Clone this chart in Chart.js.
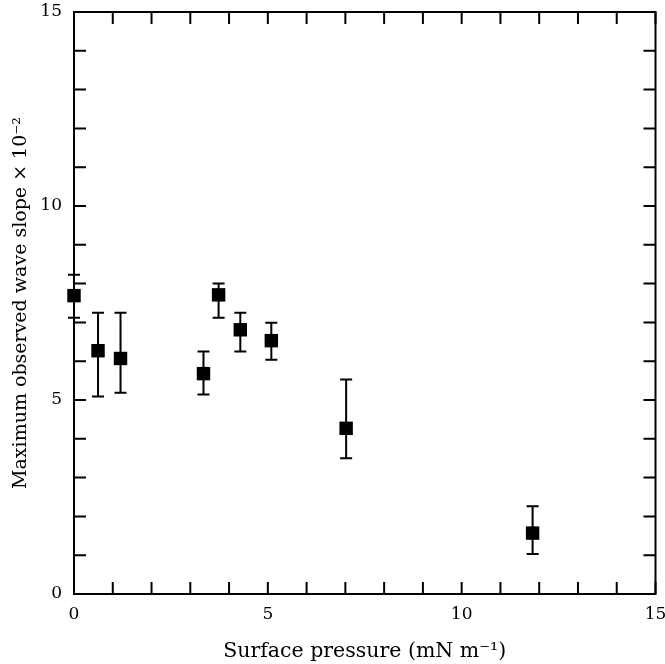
<!DOCTYPE html>
<html>
<head>
<meta charset="utf-8">
<script src="https://cdn.jsdelivr.net/npm/chart.js@4"></script>
<style>
  html, body { margin: 0; padding: 0; background: #ffffff; }
  #wrap { width: 665px; height: 664px; }
</style>
</head>
<body>
<div id="wrap"><canvas id="slope-chart" width="665" height="664"></canvas></div>
<script>
// =========================================================
// DATA
// surface pressure (mN m^-1) and max observed wave slope (x10^-2)
// =========================================================
const pressure = [0, 0.62, 1.2, 3.34, 3.73, 4.29, 5.09, 7.02, 11.83];
const slope = [7.69, 6.27, 6.07, 5.68, 7.71, 6.81, 6.53, 4.27, 1.57];
const slopeHigh = [8.23, 7.25, 7.25, 6.25, 8.0, 7.25, 6.99, 5.53, 2.26];
const slopeLow = [7.12, 5.09, 5.19, 5.14, 7.12, 6.25, 6.04, 3.5, 1.03];

const xTickLabels = [0, 5, 10, 15];
const yTickLabels = [0, 5, 10, 15];

const FONT = "'DejaVu Serif', 'Liberation Serif', serif";
const INK = "#000000";
const TICK_LEN = 12;

const points = pressure.map((p, i) => ({ x: p, y: slope[i] }));

// ---------------------------------------------------------
// frame with inward ticks on all four sides
// ---------------------------------------------------------
const framePlugin = {
  id: "frame",
  beforeDatasetsDraw(chart) {
    const { ctx, chartArea: a, scales } = chart;
    ctx.save();
    ctx.strokeStyle = INK;
    ctx.lineWidth = 2;
    ctx.strokeRect(a.left, a.top, a.right - a.left, a.bottom - a.top);

    ctx.beginPath();
    scales.x.ticks.forEach((t) => {
      const px = scales.x.getPixelForValue(t.value);
      ctx.moveTo(px, a.bottom);
      ctx.lineTo(px, a.bottom - TICK_LEN);
      ctx.moveTo(px, a.top);
      ctx.lineTo(px, a.top + TICK_LEN);
    });
    scales.y.ticks.forEach((t) => {
      const py = scales.y.getPixelForValue(t.value);
      ctx.moveTo(a.left, py);
      ctx.lineTo(a.left + TICK_LEN, py);
      ctx.moveTo(a.right, py);
      ctx.lineTo(a.right - TICK_LEN, py);
    });
    ctx.stroke();
    ctx.restore();
  },
};

// ---------------------------------------------------------
// vertical error bars with caps
// ---------------------------------------------------------
const errorBarPlugin = {
  id: "errorBars",
  beforeDatasetsDraw(chart) {
    const { ctx, scales } = chart;
    const capHalf = 6;
    ctx.save();
    ctx.strokeStyle = INK;
    ctx.lineWidth = 2;
    ctx.beginPath();
    pressure.forEach((p, i) => {
      const px = scales.x.getPixelForValue(p);
      const top = scales.y.getPixelForValue(slopeHigh[i]);
      const bot = scales.y.getPixelForValue(slopeLow[i]);
      ctx.moveTo(px, top);
      ctx.lineTo(px, bot);
      ctx.moveTo(px - capHalf, top);
      ctx.lineTo(px + capHalf, top);
      ctx.moveTo(px - capHalf, bot);
      ctx.lineTo(px + capHalf, bot);
    });
    ctx.stroke();
    ctx.restore();
  },
};

new Chart(document.getElementById("slope-chart"), {
  type: "scatter",
  data: {
    datasets: [
      {
        data: points,
        clip: false,
        pointStyle: "rect",
        pointRadius: 9.5,
        pointHoverRadius: 9.5,
        backgroundColor: INK,
        borderColor: INK,
        borderWidth: 0,
      },
    ],
  },
  options: {
    responsive: false,
    animation: false,
    events: [],
    layout: { padding: { top: 12, right: 8, left: 0, bottom: 0 } },
    plugins: {
      legend: { display: false },
      tooltip: { enabled: false },
    },
    scales: {
      x: {
        type: "linear",
        min: 0,
        max: 15,
        grid: { display: false, drawTicks: false },
        border: { display: false },
        ticks: {
          stepSize: 1,
          autoSkip: false,
          maxRotation: 0,
          padding: 10,
          color: INK,
          font: { family: FONT, size: 17 },
          callback: (v) => (xTickLabels.includes(v) ? String(v) : ""),
        },
        title: {
          display: true,
          text: "Surface pressure (mN m\u207B\u00B9)",
          color: INK,
          font: { family: FONT, size: 20.5 },
          padding: { top: 0, bottom: 0 },
        },
        afterFit(scale) {
          scale.height = 70;
          scale.paddingLeft = 0;
          scale.paddingRight = 0;
        },
      },
      y: {
        type: "linear",
        min: 0,
        max: 15,
        grid: { display: false, drawTicks: false },
        border: { display: false },
        ticks: {
          stepSize: 1,
          autoSkip: false,
          padding: 12,
          color: INK,
          font: { family: FONT, size: 17 },
          callback: (v) => (yTickLabels.includes(v) ? String(v) : ""),
        },
        title: {
          display: true,
          text: "Maximum observed wave slope \u00D7 10\u207B\u00B2",
          color: INK,
          font: { family: FONT, size: 19 },
          padding: { top: 10, bottom: 0 },
        },
        afterFit(scale) {
          scale.width = 74;
          scale.paddingTop = 0;
          scale.paddingBottom = 0;
        },
      },
    },
  },
  plugins: [framePlugin, errorBarPlugin],
});
</script>
</body>
</html>
